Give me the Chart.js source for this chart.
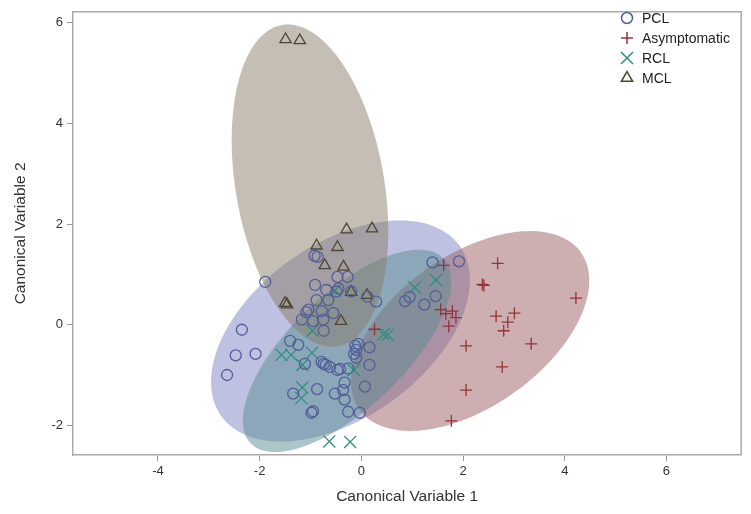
<!DOCTYPE html>
<html lang="en">
<head>
<meta charset="UTF-8" />
<title>Canonical Variables</title>
<script src="https://cdn.jsdelivr.net/npm/chart.js@4.4.1/dist/chart.umd.min.js"></script>
<style>
  body { margin: 0; background: #fff; }
  #wrap { width: 751px; height: 514px; }
</style>
</head>
<body>
<div id="wrap"><canvas id="c" width="751" height="514"></canvas></div>
<script>
// group names (legend order)
const groups = ["PCL", "Asymptomatic", "RCL", "MCL"];

// canonical scores, [can1, can2]
const pclPoints = [
  [-2.35, -0.10], [-2.47, -0.61], [-2.08, -0.58], [-2.64, -1.00],
  [-1.40, -0.32], [-1.24, -0.40], [-1.11, -0.78],
  [-0.78, -0.74], [-0.74, -0.78], [-0.70, -0.80], [-0.62, -0.84],
  [-0.47, -0.90], [-0.42, -0.88], [-0.26, -0.87],
  [-0.12, -0.42], [-0.10, -0.50], [-0.14, -0.58], [-0.10, -0.66], [-0.06, -0.38],
  [0.16, -0.45], [0.16, -0.80], [0.07, -1.23],
  [-0.33, -1.15], [-0.36, -1.30], [-0.33, -1.49],
  [-0.52, -1.37], [-0.87, -1.28], [-1.34, -1.37],
  [-0.98, -1.75], [-0.95, -1.72], [-0.26, -1.73], [-0.03, -1.75],
  [-1.89, 0.85], [-0.92, 1.37], [-0.86, 1.35],
  [-0.47, 0.95], [-0.27, 0.95], [-0.91, 0.79], [-0.69, 0.69],
  [-0.49, 0.66], [-0.45, 0.72], [-0.20, 0.66],
  [-0.88, 0.49], [-0.65, 0.49], [0.12, 0.56], [0.29, 0.46],
  [-1.04, 0.30], [-1.08, 0.25], [-1.17, 0.10],
  [-0.78, 0.27], [-0.55, 0.23], [-0.95, 0.07], [-0.75, 0.10], [-0.74, -0.12],
  [1.40, 1.24], [1.92, 1.26], [0.86, 0.47], [0.95, 0.55], [1.24, 0.40], [1.46, 0.57]
];
const asymPoints = [
  [1.62, 1.18], [2.68, 1.22], [2.38, 0.80], [2.41, 0.78], [4.22, 0.53],
  [3.01, 0.23], [2.65, 0.17], [2.88, 0.05], [2.80, -0.12], [3.34, -0.38],
  [2.06, -0.42], [2.77, -0.84], [2.06, -1.30], [1.77, -1.91],
  [1.56, 0.30], [1.66, 0.22], [1.79, 0.27], [1.86, 0.14], [1.72, -0.03],
  [0.26, -0.09]
];
const rclPoints = [
  [1.47, 0.89], [1.05, 0.74], [0.44, -0.19], [0.52, -0.20],
  [-1.57, -0.60], [-1.38, -0.60], [-0.97, -0.56], [-1.16, -0.80],
  [-1.16, -1.25], [-1.18, -1.46], [-0.63, -2.32], [-0.22, -2.33],
  [-0.96, -0.12], [-0.15, -0.90], [-0.52, 0.68]
];
const mclPoints = [
  [-1.49, 5.67], [-1.21, 5.65], [-0.29, 1.89], [0.21, 1.91],
  [-0.88, 1.57], [-0.47, 1.54], [-0.72, 1.18], [-0.35, 1.15],
  [-1.50, 0.43], [-1.46, 0.40], [-0.20, 0.65], [0.11, 0.59], [-0.40, 0.07]
];

// confidence ellipses per group: centre, semi-axes, tilt of major axis (deg)
const ellCx = [-0.41, 2.14, -0.28, -1.01];
const ellCy = [-0.125, -0.125, -0.52, 2.765];
const ellA = [2.89, 2.68, 2.64, 3.24];
const ellB = [1.72, 1.50, 1.13, 1.46];
const ellAngle = [36.1, 35.9, 44.2, 99.7];

// axis ticks
const xTicks = [-4, -2, 0, 2, 4, 6];
const yTicks = [-2, 0, 2, 4, 6];

const markColor = ["#535d96", "#983238", "#2f8f7f", "#4f4632"];
const ellFill = [
  "rgba(125,131,195,0.5)",
  "rgba(155,95,101,0.5)",
  "rgba(89,141,145,0.5)",
  "rgba(137,125,105,0.5)"
];
const markStyle = ["circle", "cross", "crossRot", "triangle"];
const markRadius = [5.5, 6, 8.5, 6.5];

const toXY = (arr) => arr.map(([x, y]) => ({ x, y }));
const series = [pclPoints, asymPoints, rclPoints, mclPoints];

// ellipses behind the markers, traced through the scales
const ellipses = {
  id: "ellipses",
  beforeDatasetsDraw(chart) {
    const { ctx, chartArea: a, scales: { x, y } } = chart;
    ctx.save();
    ctx.beginPath();
    ctx.rect(a.left, a.top, a.right - a.left, a.bottom - a.top);
    ctx.clip();
    ellCx.forEach((cx, i) => {
      const t = ellAngle[i] * Math.PI / 180;
      ctx.beginPath();
      for (let k = 0; k <= 180; k++) {
        const p = (k / 180) * 2 * Math.PI;
        const u = ellA[i] * Math.cos(p);
        const v = ellB[i] * Math.sin(p);
        const px = x.getPixelForValue(cx + u * Math.cos(t) - v * Math.sin(t));
        const py = y.getPixelForValue(ellCy[i] + u * Math.sin(t) + v * Math.cos(t));
        if (k === 0) ctx.moveTo(px, py); else ctx.lineTo(px, py);
      }
      ctx.closePath();
      ctx.fillStyle = ellFill[i];
      ctx.fill();
    });
    ctx.restore();
  }
};

// frame top/right and the inset legend
const frameLegend = {
  id: "frameLegend",
  afterDraw(chart) {
    const { ctx, chartArea: a } = chart;
    ctx.save();
    ctx.strokeStyle = "#aaaaaa";
    ctx.lineWidth = 1.5;
    ctx.beginPath();
    ctx.moveTo(a.left, a.top);
    ctx.lineTo(a.right, a.top);
    ctx.lineTo(a.right, a.bottom);
    ctx.stroke();

    ctx.font = "14px 'Liberation Sans', Arial, sans-serif";
    ctx.textBaseline = "middle";
    groups.forEach((g, i) => {
      const yy = 18 + i * 20;
      ctx.strokeStyle = markColor[i];
      ctx.fillStyle = "rgba(0,0,0,0)";
      Chart.helpers.drawPoint(ctx, {
        pointStyle: markStyle[i], rotation: 0,
        radius: markRadius[i], borderWidth: 1.3
      }, 627, yy);
      ctx.fillStyle = "#222";
      ctx.fillText(g, 642, yy + 1);
    });
    ctx.restore();
  }
};

const tickFont = { family: "'Liberation Sans', Arial, sans-serif", size: 13 };
const titleFont = { family: "'Liberation Sans', Arial, sans-serif", size: 15.5 };

new Chart(document.getElementById("c"), {
  type: "scatter",
  data: {
    datasets: series.map((pts, i) => ({
      label: groups[i],
      data: toXY(pts),
      pointStyle: markStyle[i],
      pointRadius: markRadius[i],
      pointBorderWidth: 1.3,
      borderColor: markColor[i],
      backgroundColor: "rgba(0,0,0,0)"
    }))
  },
  options: {
    responsive: false,
    animation: false,
    devicePixelRatio: 1,
    events: [],
    layout: { padding: { top: 4, right: 8, left: 0, bottom: 0 } },
    plugins: {
      legend: { display: false },
      tooltip: { enabled: false }
    },
    scales: {
      x: {
        type: "linear",
        min: -5.67,
        max: 7.47,
        afterBuildTicks: (s) => { s.ticks = xTicks.map((v) => ({ value: v })); },
        afterFit: (s) => { s.height = 59; },
        grid: { drawOnChartArea: false, drawTicks: true, tickLength: 6, color: "#999" },
        border: { display: true, color: "#aaaaaa", width: 1.5 },
        ticks: { font: tickFont, color: "#333", padding: 3 },
        title: {
          display: true, text: "Canonical Variable 1",
          font: titleFont, color: "#333", padding: { top: 4, bottom: 8 }
        }
      },
      y: {
        type: "linear",
        min: -2.59,
        max: 6.22,
        afterBuildTicks: (s) => { s.ticks = yTicks.map((v) => ({ value: v })); },
        afterFit: (s) => { s.width = 73; },
        grid: { drawOnChartArea: false, drawTicks: true, tickLength: 6, color: "#999" },
        border: { display: true, color: "#aaaaaa", width: 1.5 },
        ticks: { font: tickFont, color: "#333", padding: 4 },
        title: {
          display: true, text: "Canonical Variable 2",
          font: titleFont, color: "#333", padding: { top: 11, bottom: 4 }
        }
      }
    }
  },
  plugins: [ellipses, frameLegend]
});
</script>
</body>
</html>
